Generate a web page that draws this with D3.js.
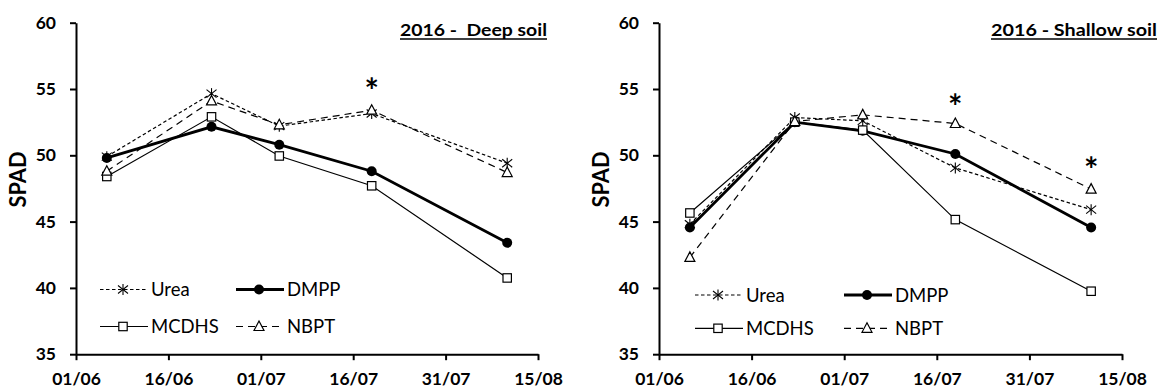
<!DOCTYPE html>
<html>
<head>
<meta charset="utf-8">
<script src="https://cdn.jsdelivr.net/npm/d3@7"></script>
<style>
  html, body { margin: 0; padding: 0; background: #fff; }
  svg { display: block; }
  text { font-family: Lato, "Open Sans", sans-serif; fill: #000; }
</style>
</head>
<body>
<svg id="chart" width="1158" height="388"></svg>
<script>
// ---------- data ----------
const sampleDates = ["2016-06-06", "2016-06-23", "2016-07-04", "2016-07-19", "2016-08-10"];
const xTickDates = ["2016-06-01", "2016-06-16", "2016-07-01", "2016-07-16", "2016-07-31", "2016-08-15"];
const yTickValues = [35, 40, 45, 50, 55, 60];
const seriesNames = ["Urea", "DMPP", "MCDHS", "NBPT"];

const deepUrea   = [49.9, 54.65, 52.2, 53.15, 49.4];
const deepDMPP   = [49.8, 52.15, 50.8, 48.8, 43.4];
const deepMCDHS  = [48.4, 52.9, 49.95, 47.7, 40.75];
const deepNBPT   = [48.8, 54.1, 52.3, 53.4, 48.7];

const shallowUrea  = [44.8, 52.85, 52.6, 49.05, 45.9];
const shallowDMPP  = [44.55, 52.5, 51.85, 50.1, 44.55];
const shallowMCDHS = [45.65, 52.5, 51.9, 45.15, 39.75];
const shallowNBPT  = [42.3, 52.55, 53.05, 52.4, 47.45];

const deepTitle = "2016 -  Deep soil";
const shallowTitle = "2016 - Shallow soil";
const yLabel = "SPAD";

// significance asterisks: date + level (SPAD units)
const deepSigDates = ["2016-07-19"];
const deepSigLevels = [55.4];
const shallowSigDates = ["2016-07-19", "2016-08-10"];
const shallowSigLevels = [54.15, 49.4];

// ---------- styles ----------
const styles = {
  Urea:  { width: 1.2, dash: "3.5,2.5", marker: "star" },
  DMPP:  { width: 2.8, dash: null, marker: "circle" },
  MCDHS: { width: 1.2, dash: null, marker: "square" },
  NBPT:  { width: 1.2, dash: "7,5", marker: "triangle" }
};

const parse = d3.timeParse("%Y-%m-%d");
const fmt = d3.timeFormat("%d/%m");
const svg = d3.select("#chart");

function drawMarker(g, type, x, y) {
  if (type === "star") {
    const s = g.append("g").attr("transform", `translate(${x},${y})`)
      .attr("stroke", "#000").attr("stroke-width", 1.1);
    s.append("line").attr("x1", 0).attr("y1", -5.5).attr("x2", 0).attr("y2", 5.5);
    s.append("line").attr("x1", -5).attr("y1", -4).attr("x2", 5).attr("y2", 4);
    s.append("line").attr("x1", -5).attr("y1", 4).attr("x2", 5).attr("y2", -4);
  } else if (type === "circle") {
    g.append("circle").attr("cx", x).attr("cy", y).attr("r", 5).attr("fill", "#000");
  } else if (type === "square") {
    g.append("rect").attr("x", x - 4.2).attr("y", y - 4.2).attr("width", 8.4).attr("height", 8.4)
      .attr("fill", "#fff").attr("stroke", "#000").attr("stroke-width", 1.2);
  } else if (type === "triangle") {
    g.append("path").attr("d", `M${x},${y - 5.5}L${x + 5},${y + 4}L${x - 5},${y + 4}Z`)
      .attr("fill", "#fff").attr("stroke", "#000").attr("stroke-width", 1.2);
  }
}

function panel(cfg) {
  const x = d3.scaleTime()
    .domain([parse(xTickDates[0]), parse(xTickDates[xTickDates.length - 1])])
    .range([cfg.x0, cfg.x1]);
  const y = d3.scaleLinear().domain([35, 60]).range([354.2, 22.7]);
  const g = svg.append("g");

  // axes
  const yAx = g.append("g").attr("transform", `translate(${cfg.x0},0)`)
    .call(d3.axisLeft(y).tickValues(yTickValues).tickSize(6).tickSizeOuter(0).tickPadding(14).tickFormat(d3.format("d")));
  const xAx = g.append("g").attr("transform", `translate(0,${y(35)})`)
    .call(d3.axisBottom(x).tickValues(xTickDates.map(parse)).tickSize(6).tickSizeOuter(0).tickFormat(fmt));
  [yAx, xAx].forEach(a => {
    a.select(".domain").attr("stroke", "#000").attr("stroke-width", 2);
    a.selectAll(".tick line").attr("stroke", "#000").attr("stroke-width", 2);
    a.selectAll("text").attr("font-family", "Lato, sans-serif").attr("font-weight", "bold")
      .attr("font-size", 17.5).attr("fill", "#000");
  });
  xAx.selectAll("text").attr("dy", null).attr("y", 31);

  // y label
  g.append("text")
    .attr("transform", `translate(${cfg.x0 - 50},${(y(35) + y(60)) / 2 - 9}) rotate(-90)`)
    .attr("text-anchor", "middle").attr("font-weight", "bold").attr("font-size", 23)
    .attr("textLength", 56).attr("lengthAdjust", "spacingAndGlyphs")
    .text(yLabel);

  // title with underline
  const t = g.append("text").attr("x", cfg.titleRight).attr("y", 36)
    .attr("text-anchor", "end").attr("font-weight", "bold").attr("font-size", 17)
    .attr("textLength", cfg.titleWidth).attr("lengthAdjust", "spacingAndGlyphs")
    .attr("xml:space", "preserve").style("white-space", "pre")
    .text(cfg.title);
  g.append("line").attr("x1", cfg.titleRight - cfg.titleWidth).attr("x2", cfg.titleRight)
    .attr("y1", 39).attr("y2", 39).attr("stroke", "#000").attr("stroke-width", 1.3);

  // series
  const line = d3.line().x(d => x(d.date)).y(d => y(d.v));
  cfg.series.forEach((vals, i) => {
    const name = seriesNames[i];
    const st = styles[name];
    const pts = vals.map((v, j) => ({ date: parse(sampleDates[j]), v }));
    g.append("path").datum(pts).attr("d", line).attr("fill", "none")
      .attr("stroke", "#000").attr("stroke-width", st.width)
      .attr("stroke-dasharray", st.dash);
  });
  cfg.series.forEach((vals, i) => {
    const st = styles[seriesNames[i]];
    vals.forEach((v, j) => drawMarker(g, st.marker, x(parse(sampleDates[j])), y(v)));
  });

  // asterisks
  cfg.sigDates.forEach((d, i) => {
    g.append("text").attr("x", x(parse(d))).attr("y", y(cfg.sigLevels[i]) + 19)
      .attr("text-anchor", "middle").attr("font-weight", "bold").attr("font-size", 34)
      .text("*");
  });

  // legend
  const L = cfg.legend;
  const items = [
    { name: "Urea", lx: L.c1, ly: L.r1 },
    { name: "DMPP", lx: L.c2, ly: L.r1 },
    { name: "MCDHS", lx: L.c1, ly: L.r2 },
    { name: "NBPT", lx: L.c2, ly: L.r2 }
  ];
  items.forEach(it => {
    const st = styles[it.name];
    g.append("line").attr("x1", it.lx).attr("x2", it.lx + 48).attr("y1", it.ly).attr("y2", it.ly)
      .attr("stroke", "#000").attr("stroke-width", st.width).attr("stroke-dasharray", st.dash);
    drawMarker(g, st.marker, it.lx + 23, it.ly);
    g.append("text").attr("x", it.lx + 51).attr("y", it.ly + 6.5)
      .attr("font-size", 18.5).text(it.name);
  });
}

panel({
  x0: 76, x1: 538, titleRight: 547, titleWidth: 147, title: deepTitle,
  series: [deepUrea, deepDMPP, deepMCDHS, deepNBPT],
  sigDates: deepSigDates, sigLevels: deepSigLevels,
  legend: { c1: 100, c2: 236, r1: 289.5, r2: 326.5 }
});
panel({
  x0: 659, x1: 1122, titleRight: 1157, titleWidth: 166, title: shallowTitle,
  series: [shallowUrea, shallowDMPP, shallowMCDHS, shallowNBPT],
  sigDates: shallowSigDates, sigLevels: shallowSigLevels,
  legend: { c1: 695, c2: 844, r1: 295, r2: 328.3 }
});
</script>
</body>
</html>
